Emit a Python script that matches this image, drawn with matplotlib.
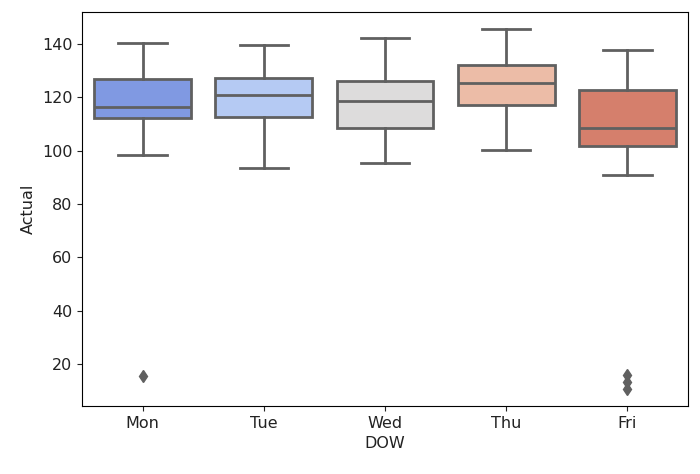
import colorsys
import matplotlib
matplotlib.use("Agg")
import matplotlib.pyplot as plt
import seaborn as sns

days = ["Mon", "Tue", "Wed", "Thu", "Fri"]
whisker_low = [98.2, 93.5, 95.5, 100.3, 90.9]
q1 = [112.1, 112.5, 108.5, 117.1, 101.7]
median = [116.5, 120.8, 118.7, 125.5, 108.5]
q3 = [126.8, 127.4, 126.1, 132.1, 122.6]
whisker_high = [140.2, 139.8, 142.4, 145.8, 137.6]
outliers = [[15.6], [], [], [], [15.8, 13.2, 10.8]]

# seaborn-like colours: coolwarm, desaturated to 0.75
colors = [sns.desaturate(c, 0.75) for c in sns.color_palette("coolwarm", len(days))]
lum = min(colorsys.rgb_to_hls(*c)[1] for c in colors) * 0.6
gray = (lum, lum, lum)

stats = []
for i, d in enumerate(days):
    stats.append({
        "label": d,
        "whislo": whisker_low[i],
        "q1": q1[i],
        "med": median[i],
        "q3": q3[i],
        "whishi": whisker_high[i],
        "fliers": outliers[i],
    })

fig = plt.figure(figsize=(7, 4.74), dpi=100)
ax = fig.add_axes([82 / 700, 1 - 406 / 474, 606 / 700, 394 / 474])

lw = 2.0
bp = ax.bxp(stats, positions=range(len(days)), widths=0.8, patch_artist=True,
            capwidths=0.4,
            boxprops=dict(edgecolor=gray, linewidth=lw),
            medianprops=dict(color=gray, linewidth=lw),
            whiskerprops=dict(color=gray, linewidth=lw),
            capprops=dict(color=gray, linewidth=lw),
            flierprops=dict(marker="d", markerfacecolor=gray, markeredgecolor=gray,
                            markersize=6.5, linestyle="none"))
for patch, c in zip(bp["boxes"], colors):
    patch.set_facecolor(c)

ax.set_xlim(-0.5, len(days) - 0.5)
ax.set_ylim(4.25, 152)
ax.set_yticks([20, 40, 60, 80, 100, 120, 140])
ax.set_xticks(range(len(days)))
ax.set_xticklabels(days)
ax.tick_params(labelsize=11.5, colors="#222222")
ax.set_xlabel("DOW", fontsize=11.5, color="#222222")
ax.set_ylabel("Actual", fontsize=11.5, color="#222222")

fig.savefig("out.png", dpi=100)
